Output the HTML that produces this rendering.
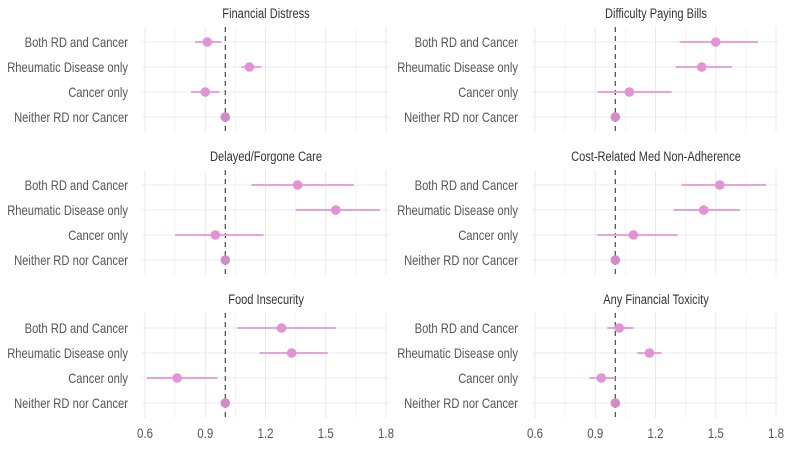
<!DOCTYPE html>
<html><head><meta charset="utf-8"><style>
body{margin:0;background:#fff;}
svg text{font-family:"Liberation Sans",sans-serif;}
</style></head><body>
<svg id="c" width="788" height="444" xmlns="http://www.w3.org/2000/svg"></svg>
<script>
const categories = ["Both RD and Cancer","Rheumatic Disease only","Cancer only","Neither RD nor Cancer"];
const titles = ["Financial Distress","Difficulty Paying Bills","Delayed/Forgone Care","Cost-Related Med Non-Adherence","Food Insecurity","Any Financial Toxicity"];
const estimates = [[0.91,1.12,0.90,1.0],[1.50,1.43,1.07,1.0],[1.36,1.55,0.95,1.0],[1.52,1.44,1.09,1.0],[1.28,1.33,0.76,1.0],[1.02,1.17,0.93,1.0]];
const lowers = [[0.85,1.08,0.83,1.0],[1.32,1.30,0.91,1.0],[1.13,1.35,0.75,1.0],[1.33,1.29,0.91,1.0],[1.06,1.17,0.61,1.0],[0.96,1.11,0.87,1.0]];
const uppers = [[0.98,1.18,0.97,1.0],[1.71,1.58,1.28,1.0],[1.64,1.77,1.19,1.0],[1.75,1.62,1.31,1.0],[1.55,1.51,0.96,1.0],[1.09,1.23,1.00,1.0]];
const ticks = [0.6,0.9,1.2,1.5,1.8];
const minorTicks = [0.75,1.05,1.35,1.65];
const refValue = 1.0;

const svg = document.getElementById('c');
const NS = "http://www.w3.org/2000/svg";
function mk(tag, attrs, parent){const e=document.createElementNS(NS,tag);for(const k in attrs)e.setAttribute(k,attrs[k]);(parent||svg).appendChild(e);return e;}
// place text squeezed horizontally; anchor: 'start'|'middle'|'end' relative to x
function stext(parent,str,x,y,size,fill,f,anchor){
  const t=mk('text',{x:0,y:y,'font-size':size,fill:fill},parent);t.textContent=str;
  const w=t.getComputedTextLength()*f;
  const sx=anchor==='end'?x-w:anchor==='middle'?x-w/2:x;
  t.setAttribute('x',sx.toFixed(1));
  t.setAttribute('textLength',w.toFixed(1));t.setAttribute('lengthAdjust','spacingAndGlyphs');
  return t;
}
const colX0=[145,535], pxPer=241/1.2;
const panelTop=[27,170,313];
for(let p=0;p<6;p++){
  const col=p%2,row=Math.floor(p/2);
  const x0=colX0[col], top=panelTop[row];
  const xs=v=>x0+(v-0.6)*pxPer;
  const ys=i=>top+15+i*25;
  const g=mk('g',{});
  
  
  const left=x0-3,right=x0+244;
  minorTicks.forEach(t=>{mk('line',{x1:xs(t),x2:xs(t),y1:top,y2:top+105,stroke:'#f3f3f3','stroke-width':1},g);});
  ticks.forEach(t=>{const l=mk('line',{x1:xs(t),x2:xs(t),y1:top,y2:top+105,stroke:'#e8e8e8','stroke-width':1},g);});
  categories.forEach((c,i)=>{
    mk('line',{x1:left,x2:right,y1:ys(i),y2:ys(i),stroke:'#ebebeb','stroke-width':1},g);
    const t=stext(g,c,x0-17,ys(i)+5,14,'#555',0.8,'end');
    
  });
  const rl=mk('line',{x1:xs(refValue),x2:xs(refValue),y1:top,y2:top+105,stroke:'#555','stroke-width':1.3,'stroke-dasharray':'5,4'},g);
  
  categories.forEach((c,i)=>{
    const ci=mk('line',{x1:xs(lowers[p][i]),x2:xs(uppers[p][i]),y1:ys(i),y2:ys(i),stroke:'#e6a3dc','stroke-width':2},g);
    
    const d=mk('circle',{cx:xs(estimates[p][i]),cy:ys(i),r:4.8,fill:i==3?'#d48ac6':'#e491d6'},g);
    
  });
  const tt=stext(g,titles[p],x0+121,top-9,13.5,'#333',0.82,'middle');
  
  if(row==2){ticks.forEach(t=>{const l=stext(g,t.toFixed(1),xs(t),438,14,'#555',0.82,'middle');
    });}
}
</script>
</body></html>
